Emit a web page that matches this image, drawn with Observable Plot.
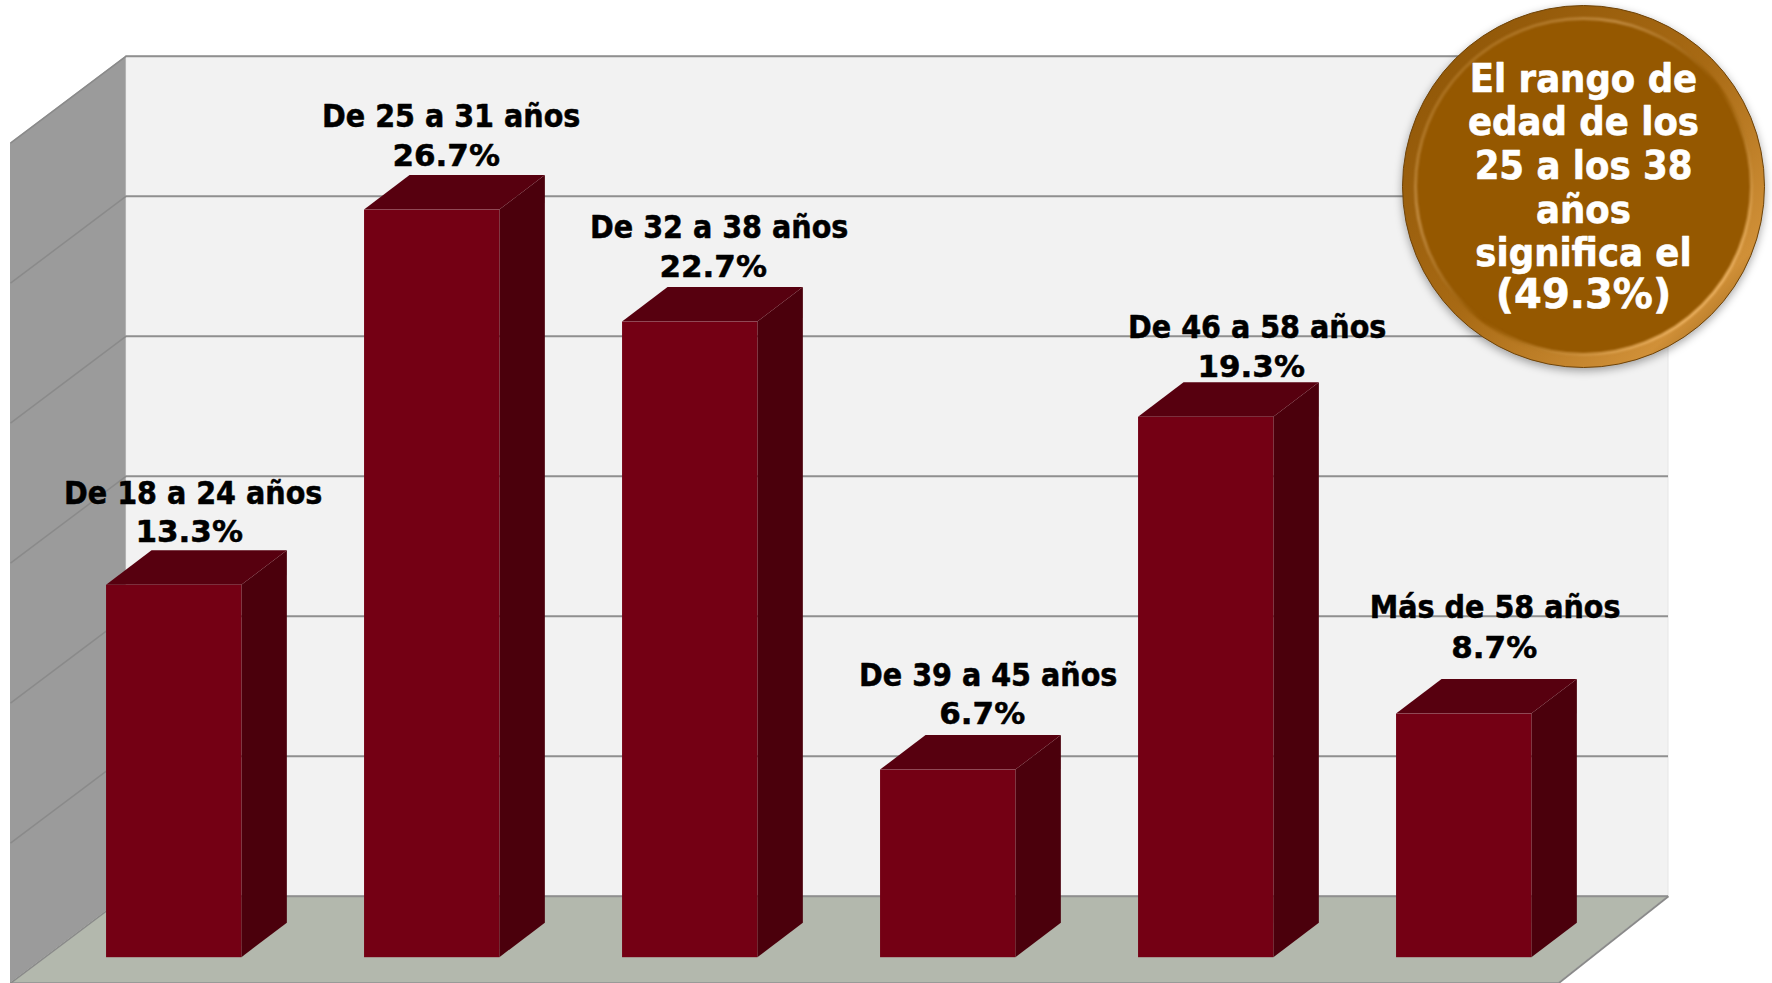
<!DOCTYPE html>
<html><head><meta charset="utf-8">
<script src="https://cdn.jsdelivr.net/npm/d3@7"></script>
<script src="https://cdn.jsdelivr.net/npm/@observablehq/plot@0.6"></script>
<style>html,body{margin:0;padding:0;background:#fff}svg{display:block}</style>
</head><body><div id="chart"></div>
<script>
const categories = ["De 18 a 24 años","De 25 a 31 años","De 32 a 38 años","De 39 a 45 años","De 46 a 58 años","Más de 58 años"];
const values = [13.3,26.7,22.7,6.7,19.3,8.7];
const gridTicks = [0,5,10,15,20,25,30];
const badgeLines = ["El rango de","edad de los","25 a los 38","años","significa el"];
const badgeTotal = "(49.3%)";

// scale geometry
const unitX = 258, unitY = 28;
const W = 1772, H = 983;
const x0 = 173.7, y0 = 957.2;
const xScale = {type:"linear", domain:[(0-x0)/unitX,(W-x0)/unitX], range:[0,W]};
const yScale = {type:"linear", domain:[(y0-H)/unitY,y0/unitY], range:[H,0]};
const halfBar = 135.3/2/unitX, barDX = 45.5/unitX, barDY = 34.5/unitY;
const wall = {backL:(125.7-x0)/unitX, backR:(1668-x0)/unitX, frontL:(10-x0)/unitX, frontR:(1558-x0)/unitX,
  floorBack:(y0-895.7)/unitY, floorFront:(y0-982.7)/unitY};
wall.dy = wall.floorBack-wall.floorFront;
const top30 = 30+wall.floorBack;

const rows = categories.map((c,i)=>({c,i,v:values[i],pct:values[i].toFixed(1)+"%"}));
// label nudges, in pixels
const nameShift=[19,19,29,40,51,31], pctShift=[15,14,23,34,45,30];
const nameLift=[57,58.5,60,60,54.5,71.5], pctLift=[18.5,19.5,21,21.5,16,32];

const faces = rows.flatMap(r=>{
  const L=r.i-halfBar,R=r.i+halfBar;
  return [
    Plot.areaY([{x:R,a:0,b:r.v},{x:R+barDX,a:barDY,b:r.v+barDY}],{x:"x",y1:"a",y2:"b",fill:"#4b000c"}),
    Plot.areaX([{y:r.v,a:L,b:R},{y:r.v+barDY,a:L+barDX,b:R+barDX}],{y:"y",x1:"a",x2:"b",fill:"#57000f"}),
  ];
});

const defs = () => {
  const s = d3.create("svg:defs");
  const rim = s.append("linearGradient").attr("id","rim").attr("x1","0").attr("y1","0").attr("x2","1").attr("y2","1");
  [[0,"#8a5204"],[.5,"#a86a14"],[.82,"#d09038"],[1,"#7a4804"]].forEach(([o,c])=>rim.append("stop").attr("offset",o).attr("stop-color",c));
  const rim2 = s.append("linearGradient").attr("id","rim2").attr("x1","0").attr("y1","0").attr("x2","1").attr("y2","1");
  [[0,"#955800"],[.3,"#c08a40"],[.55,"#955800"],[.85,"#eab060"],[1,"#c88a30"]].forEach(([o,c])=>rim2.append("stop").attr("offset",o).attr("stop-color",c));
  return s.node();
};

const badgeX=(1583-x0)/unitX, badgeY=(y0-186)/unitY;
const badgeTextY=(y0-164.5)/unitY, badgeTotalY=(y0-295)/unitY;
const condensed='"DejaVu Sans Condensed","DejaVu Sans",sans-serif', wide='"DejaVu Sans",sans-serif';
const bold={fontWeight:"bold",fill:"#000",stroke:"#000",strokeWidth:.5};
const boldW={fontWeight:"bold",fill:"#fff",stroke:"#fff",strokeWidth:.6};

const chart = Plot.plot({
  width:W,height:H,margin:0,x:{...xScale,axis:null},y:{...yScale,axis:null},
  style:{background:"#fff",overflow:"visible"},
  marks:[
    defs,
    // back wall
    Plot.rect([0],{x1:wall.backL,x2:wall.backR,y1:wall.floorBack,y2:top30,fill:"#f2f2f2",stroke:"#e6e6e6"}),
    // left wall
    Plot.areaY([{x:wall.frontL,a:wall.floorFront,b:top30-wall.dy},{x:wall.backL,a:wall.floorBack,b:top30}],{x:"x",y1:"a",y2:"b",fill:"#9b9b9b"}),
    // floor
    Plot.areaX([{y:wall.floorFront,a:wall.frontL,b:wall.frontR},{y:wall.floorBack,a:wall.backL,b:wall.backR}],{y:"y",x1:"a",x2:"b",fill:"#b3b8ad"}),
    // grid
    Plot.ruleY(gridTicks,{y:d=>d+wall.floorBack,x1:wall.backL,x2:wall.backR,stroke:"#8f8f8f",strokeWidth:2}),
    Plot.link(gridTicks,{x1:wall.frontL,x2:wall.backL,y1:d=>d+wall.floorFront,y2:d=>d+wall.floorBack,stroke:"#8a8a8a",strokeWidth:1.5}),
    Plot.link([0],{x1:wall.frontR,x2:wall.backR,y1:wall.floorFront,y2:wall.floorBack,stroke:"#8a8a8a",strokeWidth:2}),
    Plot.ruleY([wall.floorFront],{x1:wall.frontL,x2:wall.frontR,stroke:"#8a8a8a",strokeWidth:2}),
    // bars
    ...faces,
    Plot.rectY(rows,{x1:d=>d.i-halfBar,x2:d=>d.i+halfBar,y1:0,y2:"v",fill:"#740014"}),
    // labels
    Plot.text(rows,{x:(d,i)=>d.i+nameShift[i]/unitX,y:(d,i)=>d.v+barDY+nameLift[i]/unitY,text:"c",fontSize:31.8,fontFamily:condensed,...bold}),
    Plot.text(rows,{x:(d,i)=>d.i+pctShift[i]/unitX,y:(d,i)=>d.v+barDY+pctLift[i]/unitY,text:"pct",fontSize:31,fontFamily:wide,...bold}),
    // badge
    Plot.dot([0],{x:badgeX,y:badgeY,r:181,fill:"url(#rim)",stroke:"#6e4206",strokeWidth:1,imageFilter:"drop-shadow(0 3px 4px rgba(0,0,0,.35))"}),
    Plot.dot([0],{x:badgeX,y:badgeY,r:168,fill:"#955800"}),
    Plot.dot([0],{x:badgeX,y:badgeY,r:168,fill:"none",stroke:"url(#rim2)",strokeWidth:3,imageFilter:"blur(1px)"}),
    Plot.text([badgeLines.join("\n")],{x:badgeX,y:badgeTextY,text:d=>d,fontSize:39.5,lineHeight:43.6/39.5,fontFamily:condensed,...boldW}),
    Plot.text([badgeTotal],{x:badgeX,y:badgeTotalY,text:d=>d,fontSize:40,fontFamily:wide,...boldW})
  ]
});
document.getElementById("chart").append(chart);
</script></body></html>
